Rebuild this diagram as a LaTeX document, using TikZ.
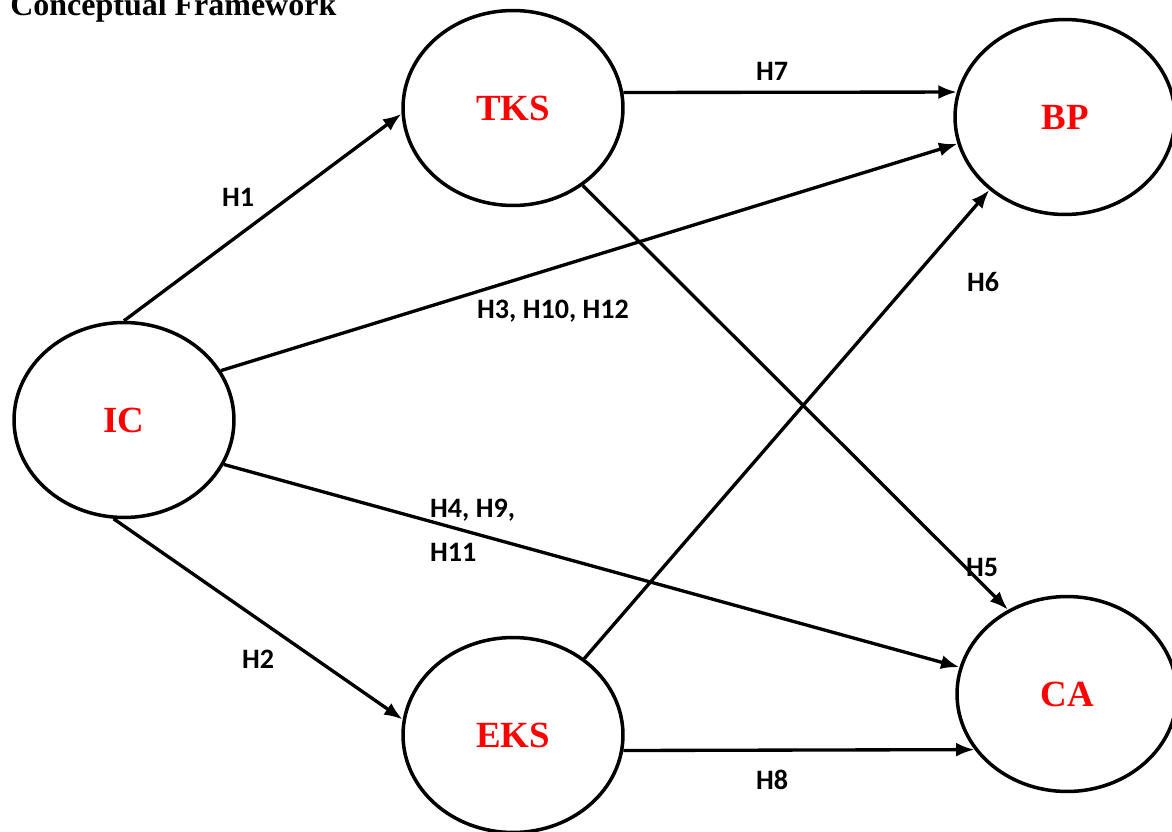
\documentclass[tikz,border=0pt]{standalone}
\usepackage{fontspec}
\setmainfont{Liberation Serif}
\newfontfamily\hypfont{Carlito}
\usetikzlibrary{shapes.geometric,arrows.meta}
\tikzset{
  construct/.style={draw,ellipse,line width=2pt,minimum width=4.4cm,minimum height=3.9cm,inner sep=0pt,text=red,font=\fontsize{21}{25}\selectfont\bfseries},
  hyp/.style={font=\hypfont\fontsize{16}{19}\selectfont\bfseries},
  link/.style={-{Latex[length=10.5pt,width=8pt]},line width=1.9pt},
}
\begin{document}
\begin{tikzpicture}[x=0.02cm,y=-0.02cm]
\useasboundingbox (0,0) rectangle (1172,831);
\node[anchor=base west,inner sep=0pt,font=\fontsize{18.2}{22}\selectfont\bfseries] (title) at (10,16) {Conceptual Framework};
% constructs
\node[construct] (ic) at (124,420) {IC};
\node[construct] (tks) at (513,108) {TKS};
\node[construct] (bp) at (1065,117) {BP};
\node[construct] (eks) at (513,735) {EKS};
\node[construct] (ca) at (1067,694) {CA};
% paths
\draw[link] (ic.90) -- (tks.183);
\draw[link] (ic.27) -- (bp.194);
\draw[link] (ic.-24) -- (ca.166);
\draw[link] (ic.264) -- (eks.172);
\draw[link] (tks.8) -- (bp.167);
\draw[link] (tks.-48) -- (ca.125);
\draw[link] (eks.47) -- (bp.224);
\draw[link] (eks.-8) -- (ca.211);
% hypotheses
\node[hyp] (h1) at (238,197) {H1};
\node[hyp] (h2) at (258,659) {H2};
\node[hyp] (h3) at (553,311) {H3, H10, H12};
\node[hyp,anchor=west] (h4) at (424,510) {H4, H9,};
\node[hyp,anchor=west] (h11) at (424,552) {H11};
\node[hyp] (h5) at (982,567) {H5};
\node[hyp] (h6) at (983,282) {H6};
\node[hyp] (h7) at (772,71) {H7};
\node[hyp] (h8) at (772,780) {H8};
\end{tikzpicture}
\end{document}
